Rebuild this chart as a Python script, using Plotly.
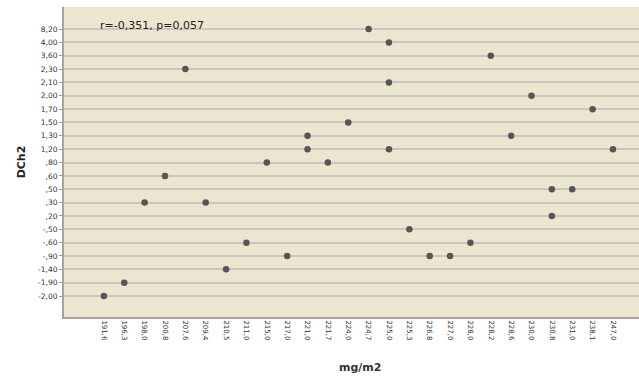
import plotly.graph_objects as go

x_categories = ["191,6", "196,3", "198,0", "200,8", "207,6", "209,4", "210,5", "211,0",
                "215,0", "217,0", "221,0", "221,7", "224,0", "224,7", "225,0", "225,3",
                "226,8", "227,0", "228,0", "228,2", "228,6", "230,0", "230,8", "231,0",
                "238,1", "247,0"]
y_categories = ["-2,00", "-1,90", "-1,40", "-,90", "-,60", "-,50", ",20", ",30", ",50",
                ",60", ",80", "1,20", "1,30", "1,50", "1,70", "2,00", "2,10", "2,30",
                "3,60", "4,00", "8,20"]

point_x = ["191,6", "196,3", "198,0", "200,8", "207,6", "209,4", "210,5", "211,0",
           "215,0", "217,0", "221,0", "221,0", "221,7", "224,0", "224,7", "225,0",
           "225,0", "225,0", "225,3", "226,8", "227,0", "228,0", "228,2", "228,6",
           "230,0", "230,8", "230,8", "231,0", "238,1", "247,0"]
point_y = ["-2,00", "-1,90", ",30", ",60", "2,30", ",30", "-1,40", "-,60",
           ",80", "-,90", "1,30", "1,20", ",80", "1,50", "8,20", "4,00",
           "2,10", "1,20", "-,50", "-,90", "-,90", "-,60", "3,60", "1,30",
           "2,00", ",50", ",20", ",50", "1,70", "1,20"]

annotation_text = "r=-0,351, p=0,057"

fig = go.Figure()
fig.add_trace(go.Scatter(
    x=point_x, y=point_y, mode="markers",
    marker=dict(color="#55555a", size=6.5, line=dict(width=0)),
    hoverinfo="skip", showlegend=False,
))

fig.update_layout(
    width=639, height=376,
    margin=dict(l=64, r=0, t=7, b=59),
    paper_bgcolor="white",
    plot_bgcolor="#ECE5CF",
    font=dict(family="DejaVu Sans", size=8, color="#333333"),
    xaxis=dict(
        type="category", categoryorder="array", categoryarray=x_categories,
        range=[-1.96, 26.28], showgrid=False, zeroline=False,
        tickangle=90, tickfont=dict(size=7, color="#333333"),
        showline=True, linecolor="#A8A49A", linewidth=2,
        ticks="", ticklen=0,
    ),
    yaxis=dict(
        type="category", categoryorder="array", categoryarray=y_categories,
        range=[-1.57, 21.65], showgrid=True, gridcolor="#C9C6BE", gridwidth=2,
        zeroline=False, showline=True, linecolor="#A8A49A", linewidth=2,
        ticks="outside", ticklen=3, tickcolor="#999999",
        tickfont=dict(size=7.5, color="#333333"),
        title=dict(text="<b>DCh2</b>", font=dict(size=11, color="#222222", family="DejaVu Sans"), standoff=10),
    ),
    annotations=[
        dict(
            text=annotation_text, xref="paper", yref="paper",
            x=(98 - 64) / 575, y=(317 - 25) / 310, xanchor="left", yanchor="middle",
            showarrow=False, font=dict(size=11, color="#222222", family="DejaVu Sans"),
        ),
        dict(
            text="<b>mg/m2</b>", xref="paper", yref="paper",
            x=(360 - 64) / 575, y=-(367 - 317) / 310, xanchor="center", yanchor="middle",
            showarrow=False, font=dict(size=11, color="#333333", family="DejaVu Sans"),
        ),
    ],
)

fig.write_html("out.html")
